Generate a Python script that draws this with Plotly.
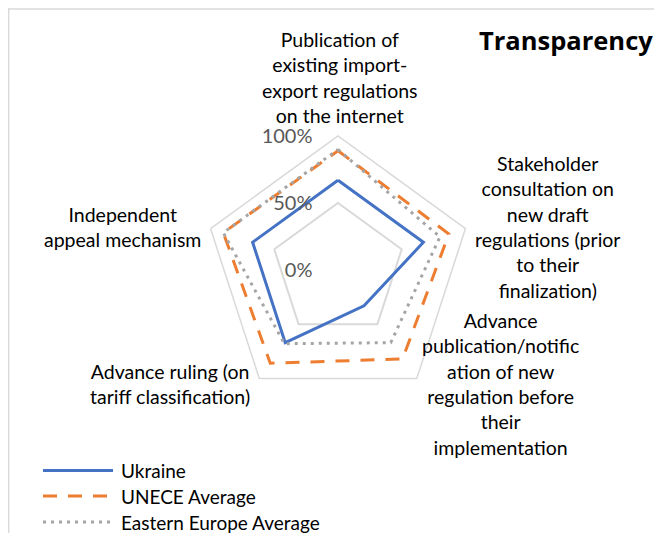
import plotly.graph_objects as go

categories = [
    "Publication of<br>existing import-<br>export regulations<br>on the internet",
    "Stakeholder<br>consultation on<br>new draft<br>regulations (prior<br>to their<br>finalization)",
    "Advance<br>publication/notific<br>ation of new<br>regulation before<br>their<br>implementation",
    "Advance ruling (on<br>tariff classification)",
    "Independent<br>appeal mechanism",
]
series_names = ["Ukraine", "UNECE Average", "Eastern Europe Average"]
ukraine = [0.67, 0.67, 0.33, 0.67, 0.67]
unece_avg = [0.89, 0.87, 0.82, 0.86, 0.90]
eastern_europe_avg = [0.90, 0.80, 0.67, 0.68, 0.90]
radial_ticks = [0, 0.5, 1]
radial_tick_labels = ["0%", "50%", "100%"]
title_text = "Transparency"

# page body has an 8px margin; the figure is sized so it ends at the window edge
OX, OY = 8, 8
W, H = 662 - OX, 533 - OY
FONT = "Lato"


def px(x):
    return (x - OX) / W


def py(y):
    return 1 - (y - OY) / H


colors = ["#4472C4", "#ED7D31", "#A5A5A5"]
dashes = ["solid", "14px,11px", "3px,5px"]
values = [ukraine, unece_avg, eastern_europe_avg]
theta_ids = [str(i) for i in range(len(categories))]

fig = go.Figure()
for name, vals, col, dash in zip(series_names, values, colors, dashes):
    fig.add_trace(go.Scatterpolar(
        r=vals + vals[:1],
        theta=theta_ids + theta_ids[:1],
        mode="lines",
        name=name,
        line=dict(color=col, width=3, dash=dash),
        showlegend=False,
        hoverinfo="skip",
    ))

cx, cy, R = 338, 270, 134
fig.update_layout(
    width=W, height=H,
    margin=dict(l=0, r=0, t=0, b=0),
    paper_bgcolor="white",
    font=dict(family=FONT, size=19, color="#000000"),
    polar=dict(
        domain=dict(x=[px(cx - R), px(cx + R)], y=[py(cy + R), py(cy - R)]),
        bgcolor="white",
        gridshape="linear",
        angularaxis=dict(
            rotation=90, direction="clockwise", type="category",
            categoryarray=theta_ids,
            showgrid=False, showticklabels=False, ticks="",
            showline=True, linecolor="#D9D9D9", linewidth=1.5,
        ),
        radialaxis=dict(
            range=[0, 1], tickvals=radial_ticks, ticktext=radial_tick_labels,
            showline=False, gridcolor="#D9D9D9", gridwidth=1.5,
            angle=90, tickangle=90, side="counterclockwise",
            ticks="outside", ticklen=18, tickcolor="rgba(0,0,0,0)",
            tickfont=dict(family=FONT, size=20, color="#595959"),
        ),
    ),
)

# category labels
label_pos = [(340, 77), (547, 227), (500, 384), (170, 384), (122, 227)]
for text, (lx, ly) in zip(categories, label_pos):
    fig.add_annotation(
        x=px(lx), y=py(ly), xref="paper", yref="paper",
        text=text, showarrow=False, align="center",
        xanchor="center", yanchor="middle",
        font=dict(family=FONT, size=19.5, color="#000000"),
    )

# title
fig.add_annotation(
    x=px(477), y=py(40), xref="paper", yref="paper",
    text="<b>" + title_text + "</b>", showarrow=False,
    xanchor="left", yanchor="middle",
    font=dict(family="Open Sans", size=25.5, color="#000000"),
)

# legend (manual)
leg_y = [470.5, 496, 522]
for name, col, dash, ly in zip(series_names, colors, dashes, leg_y):
    fig.add_shape(type="line", xref="paper", yref="paper",
                  x0=px(43), x1=px(113), y0=py(ly), y1=py(ly),
                  line=dict(color=col, width=3, dash=dash))
    fig.add_annotation(
        x=px(119), y=py(ly), xref="paper", yref="paper",
        text=name, showarrow=False, xanchor="left", yanchor="middle",
        font=dict(family=FONT, size=19, color="#000000"),
    )

# chart frame (cropped)
fig.add_shape(type="line", xref="paper", yref="paper",
              x0=0.001, x1=1.05, y0=0.998, y1=0.998,
              line=dict(color="#D9D9D9", width=1.5))
fig.add_shape(type="line", xref="paper", yref="paper",
              x0=0.001, x1=0.001, y0=1.0, y1=-0.05,
              line=dict(color="#D9D9D9", width=1.5))

fig.write_html("out.html")
